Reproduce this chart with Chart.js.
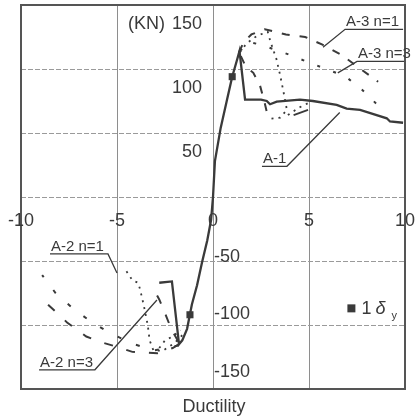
<!DOCTYPE html>
<html>
<head>
<meta charset="utf-8">
<script src="https://cdn.jsdelivr.net/npm/chart.js@4.4.0/dist/chart.umd.min.js"></script>
<style>
  html, body { margin: 0; padding: 0; background: #fff; }
  #wrap { width: 417px; height: 419px; }
</style>
</head>
<body>
<div id="wrap"><canvas id="chart"></canvas></div>
<script>
// Ductility vs load (KN). Pairs are [ductility, load].
const xTicks = [-10, -5, 0, 5, 10];
const yTicks = [150, 100, 50, -50, -100, -150];
const xGrid = [-5, 0, 5];
const yGrid = [100, 50, 0, -50, -100];

// A-1, monotonic, solid
const a1 = [[-2.8, -67], [-2.14, -66], [-1.77, -115], [-1.6, -112], [-1.35, -103], [-1.1, -84],
    [-0.83, -69], [-0.57, -51], [-0.3, -34], [-0.1, -18], [0, 0], [0.1, 28], [0.4, 54], [0.73, 76],
    [1.0, 94], [1.25, 107], [1.38, 114], [1.67, 76], [2.5, 76], [2.8, 75], [2.97, 72.5], [3.32, 74.5],
    [4.53, 76], [5.2, 75], [6.44, 72], [6.96, 69], [7.66, 68], [9.05, 61.5], [9.22, 59], [9.9, 58]];

// yield points (1 δy)
const yieldPoints = [[1.0, 94], [-1.2, -92]];

// A-3, positive side
const a3n1 = [[1.35, 113], [1.6, 121], [2.0, 127], [2.7, 131], [3.8, 127], [4.8, 125], [5.7, 119],
    [6.7, 111], [7.6, 101], [8.6, 90]];
const a3n1Drop = [[1.45, 110], [1.7, 102], [2.1, 97], [2.45, 87], [2.7, 73], [2.9, 60]];
const a3n3 = [[1.4, 114], [1.9, 121], [2.5, 119], [4.0, 111], [4.85, 106], [5.7, 101], [6.6, 96],
    [7.0, 93], [7.75, 84], [8.7, 70]];
const a3Loop = [[1.4, 113], [1.75, 120], [2.3, 126], [2.85, 129], [3.0, 121], [3.3, 108], [3.5, 95],
    [3.7, 80], [3.85, 68], [3.5, 62], [2.9, 61]];
const a3Return = [[3.9, 64], [4.5, 70], [5.05, 74]];
const a3Reload = [[4.2, 64], [4.95, 68]];

// A-2, negative side
const a2n3 = [[-1.77, -115], [-2.1, -118], [-2.9, -122], [-4.2, -121], [-5.0, -117], [-5.7, -114],
    [-6.6, -109], [-7.6, -98], [-8.6, -84], [-8.9, -79]];
const a2n3Drop = [[-1.8, -113], [-2.15, -104], [-2.6, -87], [-2.8, -80], [-3.2, -69]];
const a2Sparse = [[-1.8, -116], [-2.4, -118], [-3.1, -120], [-4.3, -114], [-5.4, -106], [-6.3, -98],
    [-7.3, -87], [-8.2, -75], [-8.9, -61]];
const a2n1 = [[-1.6, -108], [-2.0, -114], [-2.6, -120], [-3.1, -120], [-3.3, -112], [-3.4, -100],
    [-3.6, -85], [-3.8, -72], [-3.9, -67], [-4.2, -65], [-4.6, -56]];
const a2n1Inner = [[-2.8, -118], [-2.5, -112], [-2.1, -109], [-1.7, -104]];

// callout labels and their leader lines (underline first, then pointer)
const calloutText = ['A-1', 'A-3 n=1', 'A-3 n=3', 'A-2 n=1', 'A-2 n=3'];
const leaderA1 = [[2.55, 24], [3.85, 24], [6.6, 66]];
const leaderA3n1 = [[9.9, 131], [6.88, 131], [5.73, 117]];
const leaderA3n3 = [[9.95, 106], [7.5, 106], [6.5, 97]];
const leaderA2n1 = [[-8.49, -44.5], [-5.47, -44.5], [-5.0, -59.4]];
const leaderA2n3 = [[-9.06, -135], [-6.15, -135], [-2.92, -80.5]];
const leaders = [leaderA1, leaderA3n1, leaderA3n3, leaderA2n1, leaderA2n3];

const INK = '#3a3a3a';
const FONT = '"Liberation Sans", Arial, sans-serif';

const pts = (arr) => arr.map(([x, y]) => ({ x, y }));

function curve(data, dash, width) {
    return {
        data: pts(data),
        showLine: true,
        borderColor: INK,
        backgroundColor: INK,
        borderWidth: width,
        borderDash: dash,
        pointRadius: 0,
        tension: 0
    };
}

const datasets = [
    curve(a3n1, [8, 10], 2),
    curve(a3n1Drop, [8, 10], 2),
    curve(a3n3, [3, 14], 2),
    curve(a3Loop, [2, 5], 1.8),
    curve(a3Return, [2, 5], 1.8),
    curve(a3Reload, [], 1.8),
    curve(a2n3, [9, 14], 2),
    curve(a2n3Drop, [9, 12], 2),
    curve(a2Sparse, [4, 16], 2),
    curve(a2n1, [2, 5], 1.8),
    curve(a2n1Inner, [2, 5], 1.8),
    curve(a1, [], 2.3),
    {
        data: pts(yieldPoints),
        pointStyle: 'rect',
        pointRadius: 5,
        backgroundColor: INK,
        borderColor: INK,
        borderWidth: 0
    }
].concat(leaders.map((l) => Object.assign(curve(l, [], 1.3), { clip: false })));

const framePlugin = {
    id: 'frame',
    beforeDatasetsDraw(chart) {
        const { ctx, chartArea: a, scales: { x, y } } = chart;
        ctx.save();
        ctx.strokeStyle = '#8e8e8e';
        ctx.lineWidth = 1;
        xGrid.forEach((v) => {
            const px = Math.round(x.getPixelForValue(v)) + 0.5;
            ctx.beginPath();
            ctx.moveTo(px, a.top);
            ctx.lineTo(px, a.bottom);
            ctx.stroke();
        });
        ctx.setLineDash([5, 2]);
        ctx.strokeStyle = '#9a9a9a';
        yGrid.forEach((v) => {
            const py = Math.round(y.getPixelForValue(v)) + 0.5;
            ctx.beginPath();
            ctx.moveTo(a.left, py);
            ctx.lineTo(a.right, py);
            ctx.stroke();
        });
        ctx.restore();
    },
    afterDatasetsDraw(chart) {
        const { ctx, chartArea: a, scales: { x, y } } = chart;
        ctx.save();
        ctx.strokeStyle = '#555';
        ctx.lineWidth = 2;
        ctx.strokeRect(a.left, a.top, a.right - a.left, a.bottom - a.top);

        ctx.fillStyle = INK;
        ctx.font = '18px ' + FONT;
        const x0 = x.getPixelForValue(0);
        const y0 = y.getPixelForValue(0);

        ctx.textBaseline = 'middle';
        ctx.textAlign = 'center';
        xTicks.forEach((v) => ctx.fillText(String(v), x.getPixelForValue(v), y0 + 24));

        yTicks.forEach((v) => {
            if (v > 0) {
                ctx.textAlign = 'right';
                ctx.fillText(String(v), x0 - 11, y.getPixelForValue(v) + 19);
            } else {
                ctx.textAlign = 'left';
                ctx.fillText(String(v), x0 + 1, y.getPixelForValue(v * 0.9) + 2);
            }
        });

        // unit beside the top tick
        ctx.textAlign = 'right';
        const topW = ctx.measureText(String(yTicks[0])).width;
        ctx.fillText('(KN)', x0 - 11 - topW - 7, y.getPixelForValue(yTicks[0]) + 19);

        // axis title
        ctx.textAlign = 'center';
        ctx.fillText('Ductility', (a.left + a.right) / 2 + 1, a.bottom + 18);

        // callout labels sit on their underlines
        ctx.font = '15px ' + FONT;
        ctx.textAlign = 'left';
        ctx.textBaseline = 'alphabetic';
        leaders.forEach((l, i) => {
            const left = Math.min(l[0][0], l[1][0]);
            ctx.fillText(calloutText[i], x.getPixelForValue(left) + 1, y.getPixelForValue(l[0][1]) - 3);
        });

        // key for the yield markers
        const kx = x.getPixelForValue(7.0);
        const ky = y.getPixelForValue(-87);
        ctx.fillRect(kx, ky - 4, 8, 8);
        ctx.font = '18px ' + FONT;
        ctx.fillText('1', kx + 14, ky + 6);
        ctx.font = 'italic 18px ' + FONT;
        ctx.fillText('\u03b4', kx + 28, ky + 6);
        ctx.font = '11px ' + FONT;
        ctx.fillText('y', kx + 44, ky + 11);
        ctx.restore();
    }
};

new Chart(document.getElementById('chart'), {
    type: 'scatter',
    data: { datasets },
    options: {
        responsive: true,
        maintainAspectRatio: false,
        animation: false,
        layout: { padding: { left: 21, right: 12, top: 5, bottom: 30 } },
        scales: {
            x: { type: 'linear', min: -10, max: 10, display: false },
            y: { type: 'linear', min: -150, max: 150, display: false }
        },
        plugins: {
            legend: { display: false },
            tooltip: { enabled: false }
        }
    },
    plugins: [framePlugin]
});
</script>
</body>
</html>
